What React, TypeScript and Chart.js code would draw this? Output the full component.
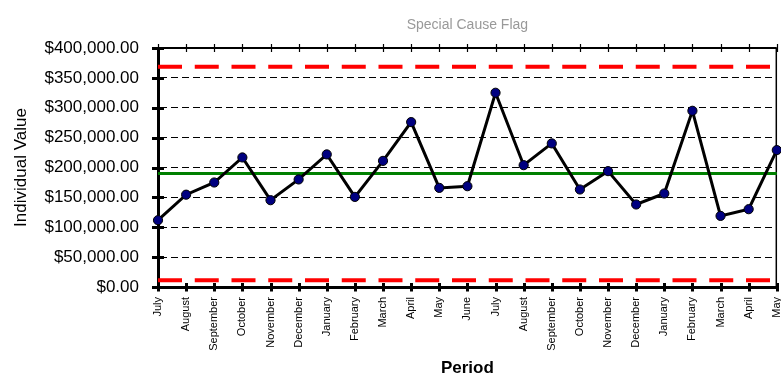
import React, { useEffect, useRef } from "react";
import { Chart, registerables } from "chart.js";

Chart.register(...registerables);

const categories = [
  "July", "August", "September", "October", "November", "December",
  "January", "February", "March", "April", "May", "June",
  "July", "August", "September", "October", "November", "December",
  "January", "February", "March", "April", "May",
];

const individualValues = [
  111800, 154500, 174900, 216800, 145300, 180000,
  221900, 150800, 211100, 276000, 165900, 168700,
  325100, 203900, 240300, 163200, 193900, 138100,
  156500, 294900, 119000, 130200, 229100,
];

const upperLimit = 368800;
const centerLine = 190000;
const lowerLimit = 11200;

const yMin = 0;
const yMax = 400000;
const yStep = 50000;

const chartTitle = "Special Cause Flag";
const xTitle = "Period";
const yTitle = "Individual Value";

const FONT = "'Liberation Sans', Arial, sans-serif";

const formatMoney = (v: number) =>
  "$" + Number(v).toLocaleString("en-US", { minimumFractionDigits: 2, maximumFractionDigits: 2 });

const axisMarks = {
  id: "axisMarks",
  beforeDatasetsDraw(chart: any) {
    const { ctx, chartArea, scales } = chart;
    const { left, right, top, bottom } = chartArea;
    const xs = scales.x;
    const ys = scales.y;
    ctx.save();
    ctx.strokeStyle = "#000";
    // top border
    ctx.lineWidth = 2;
    ctx.beginPath();
    ctx.moveTo(left, top);
    ctx.lineTo(right, top);
    ctx.stroke();
    // right border
    ctx.lineWidth = 1.5;
    ctx.beginPath();
    ctx.moveTo(right - 0.5, top);
    ctx.lineTo(right - 0.5, bottom);
    ctx.stroke();
    // top ticks
    ctx.lineWidth = 1.2;
    ctx.beginPath();
    xs.ticks.forEach((_: any, i: number) => {
      const px = Math.round(xs.getPixelForTick(i)) + 0.5;
      ctx.moveTo(px, top - 4);
      ctx.lineTo(px, top + 4);
    });
    ctx.stroke();
    // bottom ticks
    ctx.lineWidth = 3;
    ctx.beginPath();
    xs.ticks.forEach((_: any, i: number) => {
      const px = Math.round(xs.getPixelForTick(i)) + 0.5;
      ctx.moveTo(px, bottom - 4);
      ctx.lineTo(px, bottom + 4.5);
    });
    ctx.stroke();
    // y ticks
    ctx.beginPath();
    ys.ticks.forEach((_: any, i: number) => {
      const py = Math.round(ys.getPixelForTick(i)) + 0.5;
      ctx.moveTo(left - 6, py);
      ctx.lineTo(left + 6, py);
    });
    ctx.stroke();
    ctx.restore();
  },
};

export default function App() {
  const canvasRef = useRef<HTMLCanvasElement | null>(null);

  useEffect(() => {
    const canvas = canvasRef.current;
    if (!canvas) return;
    Chart.defaults.font.family = FONT;
    Chart.defaults.color = "#000";

    const chart = new Chart(canvas, {
      type: "line",
      data: {
        labels: categories,
        datasets: [
          {
            label: "Individual Value",
            data: individualValues,
            borderColor: "#000",
            borderWidth: 3,
            pointRadius: 4.6,
            pointBackgroundColor: "#000080",
            pointBorderColor: "#000",
            pointBorderWidth: 1,
            tension: 0,
          },
          {
            label: "CL",
            data: categories.map(() => centerLine),
            borderColor: "#008000",
            borderWidth: 3,
            pointRadius: 0,
          },
          {
            label: "UCL",
            data: categories.map(() => upperLimit),
            borderColor: "#ff0000",
            borderWidth: 4,
            borderDash: [24, 12.75],
            borderCapStyle: "butt",
            pointRadius: 0,
          },
          {
            label: "LCL",
            data: categories.map(() => lowerLimit),
            borderColor: "#ff0000",
            borderWidth: 4,
            borderDash: [24, 12.75],
            borderCapStyle: "butt",
            pointRadius: 0,
          },
        ],
      },
      options: {
        responsive: false,
        animation: false,
        events: [],
        layout: { padding: { left: 0, right: 23, top: 0, bottom: 0 } },
        plugins: {
          legend: { display: false },
          tooltip: { enabled: false },
          title: {
            display: true,
            text: chartTitle,
            fullSize: false,
            color: "#999",
            font: { size: 14, weight: "normal", family: FONT },
            padding: { top: 17, bottom: 14.2 },
          },
        },
        scales: {
          x: {
            type: "category",
            offset: false,
            grid: { display: true, drawOnChartArea: false, drawTicks: false },
            border: { display: true, color: "#000", width: 3 },
            ticks: {
              minRotation: 90,
              maxRotation: 90,
              autoSkip: false,
              padding: 10,
              color: "#000",
              font: { size: 11, family: FONT },
            },
            title: {
              display: true,
              text: xTitle,
              color: "#000",
              font: { size: 17, weight: "bold", family: FONT },
              padding: { top: 0, bottom: 0.8 },
            },
            afterFit: (scale: any) => {
              scale.height = 92;
            },
          },
          y: {
            min: yMin,
            max: yMax,
            grid: {
              drawTicks: false,
              lineWidth: 1,
              color: (ctx: any) =>
                ctx.tick && (ctx.tick.value === yMin || ctx.tick.value === yMax)
                  ? "rgba(0,0,0,0)"
                  : "#000",
            },
            border: { display: true, color: "#000", width: 3, dash: [7, 4] },
            ticks: {
              stepSize: yStep,
              padding: 19,
              color: "#000",
              font: { size: 17, family: FONT },
              callback: (v: any) => formatMoney(Number(v)),
            },
            title: {
              display: true,
              text: yTitle,
              color: "#000",
              font: { size: 17, family: FONT },
              padding: { top: 11.5, bottom: 0 },
            },
            afterFit: (scale: any) => {
              scale.width = 158;
            },
          },
        },
      },
      plugins: [axisMarks],
    });

    return () => chart.destroy();
  }, []);

  return (
    <div
      style={{
        position: "absolute",
        left: 0,
        top: 0,
        width: 781,
        height: 379,
        overflow: "hidden",
        background: "#fff",
      }}
    >
      <canvas ref={canvasRef} width={800} height={379} style={{ width: 800, height: 379, display: "block" }} />
    </div>
  );
}
